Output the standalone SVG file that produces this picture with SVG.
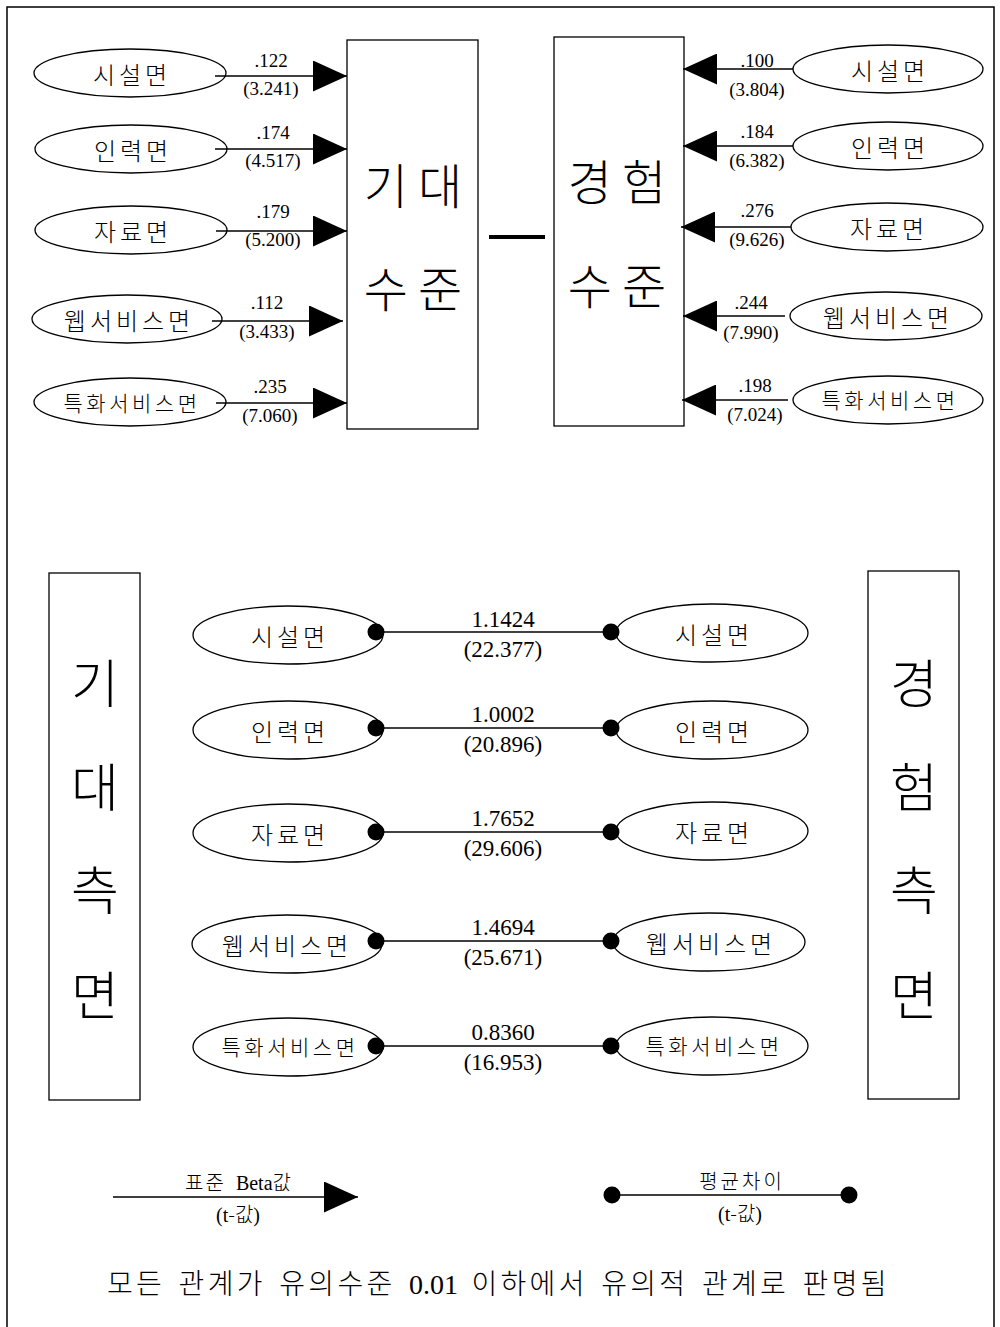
<svg xmlns="http://www.w3.org/2000/svg" width="1000" height="1327" viewBox="0 0 1000 1327">
  <style>
    .frame { fill: none; stroke: #000; stroke-width: 1.5; }
    .box { fill: #fff; stroke: #000; stroke-width: 1.3; }
    .oval { fill: #fff; stroke: #000; stroke-width: 1.3; }
    .edge { fill: none; stroke: #000; stroke-width: 1.5; }
    .ko { font-family: "Noto Sans CJK KR", sans-serif; fill: #000; font-weight: 300; }
    .num { font-family: "Liberation Serif", "Noto Sans CJK KR", serif; fill: #000; }
    .lbl { font-size: 24px; letter-spacing: 4px; text-anchor: middle; }
    .lbl6 { font-size: 21px; letter-spacing: 3.5px; text-anchor: middle; }
    .big { font-size: 48px; letter-spacing: 10px; text-anchor: middle; }
    .col { font-size: 52px; text-anchor: middle; }
    .beta { font-size: 19px; text-anchor: middle; }
    .diff { font-size: 23px; text-anchor: middle; }
    .leg { font-size: 20px; text-anchor: middle; }
  </style>
  <defs>
    <marker id="arrow" markerUnits="userSpaceOnUse" viewBox="0 0 34 31" refX="34" refY="15.5" markerWidth="34" markerHeight="31" orient="auto">
      <path d="M0,0 L34,15.5 L0,31 Z" fill="#000"/>
    </marker>
    <marker id="dot" markerUnits="userSpaceOnUse" viewBox="-9 -9 18 18" refX="0" refY="0" markerWidth="18" markerHeight="18" orient="auto">
      <circle cx="0" cy="0" r="8.5" fill="#000"/>
    </marker>
  </defs>

  <!-- page frame -->
  <rect class="frame" x="7" y="7" width="987" height="1340"/>

  <!-- expectation-side factors -->
  <g id="exp-facility"><ellipse class="oval" cx="130" cy="73" rx="96" ry="24"/><text class="ko lbl" x="132" y="84">시설면</text></g>
  <g id="exp-staff"><ellipse class="oval" cx="131" cy="149" rx="96" ry="24"/><text class="ko lbl" x="133" y="160">인력면</text></g>
  <g id="exp-data"><ellipse class="oval" cx="131" cy="230" rx="96" ry="24"/><text class="ko lbl" x="133" y="241">자료면</text></g>
  <g id="exp-web"><ellipse class="oval" cx="127" cy="319" rx="95" ry="24"/><text class="ko lbl" x="129" y="330">웹서비스면</text></g>
  <g id="exp-special"><ellipse class="oval" cx="130" cy="402" rx="96" ry="24"/><text class="ko lbl6" x="132" y="411">특화서비스면</text></g>

  <!-- level boxes -->
  <g id="expect-level">
    <rect class="box" x="347" y="40" width="131" height="389"/>
    <text class="ko big" x="418" y="204">기대</text>
    <text class="ko big" x="418" y="307">수준</text>
  </g>
  <g id="experience-level">
    <rect class="box" x="554" y="37" width="130" height="389"/>
    <text class="ko big" x="622" y="200">경험</text>
    <text class="ko big" x="622" y="304">수준</text>
  </g>

  <!-- experience-side factors -->
  <g id="xp-facility"><ellipse class="oval" cx="888" cy="69" rx="95" ry="24"/><text class="ko lbl" x="890" y="80">시설면</text></g>
  <g id="xp-staff"><ellipse class="oval" cx="888" cy="146" rx="95" ry="24"/><text class="ko lbl" x="890" y="157">인력면</text></g>
  <g id="xp-data"><ellipse class="oval" cx="887" cy="227" rx="96" ry="24"/><text class="ko lbl" x="889" y="238">자료면</text></g>
  <g id="xp-web"><ellipse class="oval" cx="886" cy="316" rx="96" ry="24"/><text class="ko lbl" x="888" y="327">웹서비스면</text></g>
  <g id="xp-special"><ellipse class="oval" cx="888" cy="400" rx="95" ry="24"/><text class="ko lbl6" x="890" y="408">특화서비스면</text></g>

  <!-- side columns -->
  <g id="expect-side">
    <rect class="box" x="49" y="573" width="91" height="527"/>
    <text class="ko col" x="95" y="703">기</text>
    <text class="ko col" x="95" y="807">대</text>
    <text class="ko col" x="95" y="910">측</text>
    <text class="ko col" x="95" y="1015">면</text>
  </g>
  <g id="experience-side">
    <rect class="box" x="868" y="571" width="91" height="528"/>
    <text class="ko col" x="914" y="703">경</text>
    <text class="ko col" x="914" y="807">험</text>
    <text class="ko col" x="914" y="910">측</text>
    <text class="ko col" x="914" y="1015">면</text>
  </g>

  <!-- paired factors, expectation side -->
  <g id="pe-facility"><ellipse class="oval" cx="288" cy="635" rx="95" ry="29"/><text class="ko lbl" x="290" y="646">시설면</text></g>
  <g id="pe-staff"><ellipse class="oval" cx="288" cy="730" rx="95" ry="29"/><text class="ko lbl" x="290" y="741">인력면</text></g>
  <g id="pe-data"><ellipse class="oval" cx="288" cy="833" rx="95" ry="29"/><text class="ko lbl" x="290" y="844">자료면</text></g>
  <g id="pe-web"><ellipse class="oval" cx="287" cy="944" rx="95" ry="29"/><text class="ko lbl" x="287" y="955">웹서비스면</text></g>
  <g id="pe-special"><ellipse class="oval" cx="288" cy="1047" rx="95" ry="29"/><text class="ko lbl6" x="290" y="1055">특화서비스면</text></g>

  <!-- paired factors, experience side -->
  <g id="px-facility"><ellipse class="oval" cx="712" cy="633" rx="96" ry="29"/><text class="ko lbl" x="714" y="644">시설면</text></g>
  <g id="px-staff"><ellipse class="oval" cx="712" cy="730" rx="96" ry="29"/><text class="ko lbl" x="714" y="741">인력면</text></g>
  <g id="px-data"><ellipse class="oval" cx="712" cy="831" rx="96" ry="29"/><text class="ko lbl" x="714" y="842">자료면</text></g>
  <g id="px-web"><ellipse class="oval" cx="709" cy="942" rx="96" ry="29"/><text class="ko lbl" x="711" y="953">웹서비스면</text></g>
  <g id="px-special"><ellipse class="oval" cx="712" cy="1046" rx="96" ry="29"/><text class="ko lbl6" x="714" y="1054">특화서비스면</text></g>

  <!-- connectors -->
  <g id="connectors">
    <!-- left factors -> expectation level -->
    <line class="edge" x1="215" y1="76" x2="347" y2="76" marker-end="url(#arrow)"/>
    <line class="edge" x1="215" y1="149" x2="347" y2="149" marker-end="url(#arrow)"/>
    <line class="edge" x1="216" y1="231" x2="347" y2="231" marker-end="url(#arrow)"/>
    <line class="edge" x1="212" y1="321" x2="343" y2="321" marker-end="url(#arrow)"/>
    <line class="edge" x1="216" y1="403" x2="347" y2="403" marker-end="url(#arrow)"/>
    <!-- right factors -> experience level -->
    <line class="edge" x1="793" y1="69" x2="683" y2="69" marker-end="url(#arrow)"/>
    <line class="edge" x1="793" y1="146" x2="683" y2="146" marker-end="url(#arrow)"/>
    <line class="edge" x1="791" y1="227" x2="681" y2="227" marker-end="url(#arrow)"/>
    <line class="edge" x1="785" y1="316" x2="683" y2="316" marker-end="url(#arrow)"/>
    <line class="edge" x1="788" y1="400" x2="682" y2="400" marker-end="url(#arrow)"/>
    <!-- link between the two level boxes -->
    <line x1="489" y1="237" x2="545" y2="237" stroke="#000" stroke-width="4"/>
    <!-- mean differences -->
    <line class="edge" x1="376" y1="632" x2="611" y2="632" marker-start="url(#dot)" marker-end="url(#dot)"/>
    <line class="edge" x1="376" y1="728" x2="611" y2="728" marker-start="url(#dot)" marker-end="url(#dot)"/>
    <line class="edge" x1="376" y1="832" x2="611" y2="832" marker-start="url(#dot)" marker-end="url(#dot)"/>
    <line class="edge" x1="376" y1="941" x2="611" y2="941" marker-start="url(#dot)" marker-end="url(#dot)"/>
    <line class="edge" x1="376" y1="1046" x2="611" y2="1046" marker-start="url(#dot)" marker-end="url(#dot)"/>
  </g>

  <!-- beta labels, left -->
  <g id="beta-left" class="num beta">
    <text x="271" y="67">.122</text><text x="271" y="95">(3.241)</text>
    <text x="273" y="139">.174</text><text x="273" y="167">(4.517)</text>
    <text x="273" y="218">.179</text><text x="273" y="246">(5.200)</text>
    <text x="267" y="309">.112</text><text x="267" y="338">(3.433)</text>
    <text x="270" y="393">.235</text><text x="270" y="422">(7.060)</text>
  </g>
  <!-- beta labels, right -->
  <g id="beta-right" class="num beta">
    <text x="757" y="67">.100</text><text x="757" y="96">(3.804)</text>
    <text x="757" y="138">.184</text><text x="757" y="167">(6.382)</text>
    <text x="757" y="217">.276</text><text x="757" y="246">(9.626)</text>
    <text x="751" y="309">.244</text><text x="751" y="339">(7.990)</text>
    <text x="755" y="392">.198</text><text x="755" y="421">(7.024)</text>
  </g>

  <!-- mean difference labels -->
  <g id="diff-labels" class="num diff">
    <text x="503" y="627">1.1424</text><text x="503" y="657">(22.377)</text>
    <text x="503" y="722">1.0002</text><text x="503" y="752">(20.896)</text>
    <text x="503" y="826">1.7652</text><text x="503" y="856">(29.606)</text>
    <text x="503" y="935">1.4694</text><text x="503" y="965">(25.671)</text>
    <text x="503" y="1040">0.8360</text><text x="503" y="1070">(16.953)</text>
  </g>

  <!-- legend -->
  <g id="legend-beta">
    <line class="edge" x1="113" y1="1197" x2="358" y2="1197" marker-end="url(#arrow)"/>
    <text class="num leg" x="238" y="1190"><tspan class="ko" letter-spacing="2">표준</tspan><tspan dx="10">Beta</tspan><tspan class="ko">값</tspan></text>
    <text class="num leg" x="238" y="1222">(t<tspan class="ko">-값</tspan>)</text>
  </g>
  <g id="legend-diff">
    <line class="edge" x1="612" y1="1195" x2="849" y2="1195" marker-start="url(#dot)" marker-end="url(#dot)"/>
    <text class="ko leg" x="742" y="1189" letter-spacing="3">평균차이</text>
    <text class="num leg" x="740" y="1221">(t<tspan class="ko">-값</tspan>)</text>
  </g>

  <!-- footnote -->
  <text id="footnote" class="ko" x="107" y="1294" font-size="28" word-spacing="4"><tspan letter-spacing="3.3">모든 관계가 유의수준 </tspan><tspan font-family="Liberation Serif, serif" font-weight="400">0.01</tspan><tspan letter-spacing="3.3"> 이하에서 유의적 관계로 판명됨</tspan></text>
</svg>
